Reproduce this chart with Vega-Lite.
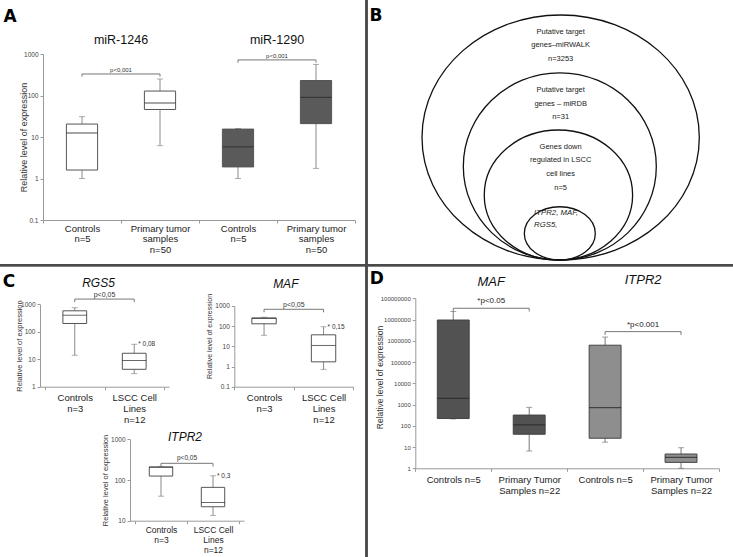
{
  "$schema": "https://vega.github.io/schema/vega-lite/v6.json",
  "width": 733,
  "height": 557,
  "padding": 0,
  "autosize": {"type": "none"},
  "background": "white",
  "config": {
    "view": {"stroke": null},
    "font": "Liberation Sans",
    "axis": {"grid": false, "domainColor": "#9a9a9a", "tickColor": "#9a9a9a", "labelColor": "#444", "titleColor": "#333", "titleFontWeight": "normal", "tickSize": 3, "labelOverlap": false, "titleBaseline": "middle"}
  },
  "datasets": {
    "boxes": [
      {"panel": "A", "cat": "a1", "grp": "miR-1246", "min": 1.0, "q1": 1.6, "med": 12.5, "q3": 20.5, "max": 31},
      {"panel": "A", "cat": "a2", "grp": "miR-1246", "min": 6.2, "q1": 46, "med": 66, "q3": 128, "max": 250},
      {"panel": "A", "cat": "a3", "grp": "miR-1290", "min": 1.0, "q1": 1.9, "med": 5.8, "q3": 15.5, "max": 16},
      {"panel": "A", "cat": "a4", "grp": "miR-1290", "min": 1.75, "q1": 21, "med": 90, "q3": 230, "max": 560},
      {"panel": "RGS5", "cat": "k1", "grp": "RGS5", "min": 14, "q1": 200, "med": 400, "q3": 580, "max": 750},
      {"panel": "RGS5", "cat": "k2", "grp": "RGS5", "min": 3.0, "q1": 4.3, "med": 9, "q3": 16.5, "max": 35},
      {"panel": "MAFc", "cat": "k1", "grp": "MAF", "min": 35, "q1": 130, "med": 240, "q3": 255, "max": 275},
      {"panel": "MAFc", "cat": "k2", "grp": "MAF", "min": 0.72, "q1": 1.7, "med": 11, "q3": 37, "max": 93},
      {"panel": "ITPR2c", "cat": "k1", "grp": "ITPR2", "min": 40, "q1": 125, "med": 205, "q3": 210, "max": 215},
      {"panel": "ITPR2c", "cat": "k2", "grp": "ITPR2", "min": 13.5, "q1": 22, "med": 28, "q3": 66, "max": 127},
      {"panel": "D", "cat": "d1", "grp": "MAF", "min": 210, "q1": 220, "med": 1950, "q3": 9500000, "max": 24000000},
      {"panel": "D", "cat": "d2", "grp": "MAF", "min": 6.5, "q1": 40, "med": 110, "q3": 320, "max": 740},
      {"panel": "D", "cat": "d3", "grp": "ITPR2", "min": 17, "q1": 26, "med": 710, "q3": 620000, "max": 1500000},
      {"panel": "D", "cat": "d4", "grp": "ITPR2", "min": 1, "q1": 1.9, "med": 3.3, "q3": 4.7, "max": 9.3}
    ],
    "brackets": [
      {"panel": "A", "from": "a1", "to": "a2", "y": 330, "end": 285, "label": "p<0,001"},
      {"panel": "A", "from": "a3", "to": "a4", "y": 720, "end": 620, "label": "p<0,001"},
      {"panel": "RGS5", "from": "k1", "to": "k2", "y": 1550, "end": 1200, "label": "p<0,05"},
      {"panel": "MAFc", "from": "k1", "to": "k2", "y": 680, "end": 480, "label": "p<0,05"},
      {"panel": "ITPR2c", "from": "k1", "to": "k2", "y": 257, "end": 215, "label": "p<0,05"},
      {"panel": "D", "from": "d1", "to": "d2", "y": 34000000, "end": 24000000, "label": "*p<0.05"},
      {"panel": "D", "from": "d3", "to": "d4", "y": 2700000, "end": 1900000, "label": "*p<0.001"}
    ],
    "titles": [
      {"panel": "A", "at": "a1", "y": 2170, "label": "miR-1246"},
      {"panel": "A", "at": "a3", "y": 2170, "label": "miR-1290"},
      {"panel": "RGS5", "at": "k1", "y": 5750, "label": "RGS5"},
      {"panel": "MAFc", "at": "k1", "y": 11750, "label": "MAF"},
      {"panel": "ITPR2c", "at": "k1", "y": 1120, "label": "ITPR2"},
      {"panel": "D", "at": "d1", "y": 560000000, "label": "MAF"},
      {"panel": "D", "at": "d3", "y": 700000000, "label": "ITPR2"}
    ],
    "notes": [
      {"panel": "RGS5", "at": "k2", "y": 35, "label": "* 0,08"},
      {"panel": "MAFc", "at": "k2", "y": 93, "label": "* 0,15"},
      {"panel": "ITPR2c", "at": "k2", "y": 127, "label": "* 0,3"}
    ],
    "sets": [
      {"set": "miRWALK", "cx": 0, "cy": 44.18, "w": 100},
      {"set": "miRDB", "cx": -0.3, "cy": 33.75, "w": 69.6},
      {"set": "LSCC", "cx": -0.8, "cy": 23.45, "w": 53.5},
      {"set": "final", "cx": -0.3, "cy": 9.6, "w": 25.6}
    ],
    "setlabels": [
      {"kind": "plain", "tx": 0, "ty": 82.3, "label": "Putative target\ngenes–miRWALK\nn=3253"},
      {"kind": "plain", "tx": 0, "ty": 61.3, "label": "Putative target\ngenes – miRDB\nn=31"},
      {"kind": "plain", "tx": 0, "ty": 40.9, "label": "Genes down\nregulated in LSCC\ncell lines\nn=5"},
      {"kind": "genes", "tx": -9.6, "ty": 16.8, "label": "ITPR2, MAF,\nRGS5,"}
    ],
    "letters": [
      {"letter": "A", "px": 1.36, "py": 3.14},
      {"letter": "B", "px": 51.3, "py": 2.87},
      {"letter": "C", "px": 1.23, "py": 50.6},
      {"letter": "D", "px": 51.4, "py": 50.1}
    ]
  },
  "layer": [
    {
      "data": {"name": "letters"},
      "layer": [
        {"mark": {"type": "rule", "color": "#4a4a4a", "strokeWidth": 2}, "encoding": {"x": {"datum": 50, "type": "quantitative", "scale": {"domain": [0, 100], "range": [0, 733]}, "axis": null}}},
        {"mark": {"type": "rule", "color": "#4a4a4a", "strokeWidth": 2}, "encoding": {"y": {"datum": 47.6, "type": "quantitative", "scale": {"domain": [0, 100], "range": [0, 557]}, "axis": null}}},
        {"mark": {"type": "text", "font": "DejaVu Sans", "fontWeight": "bold", "fontSize": 17, "color": "#000", "baseline": "middle", "align": "center"},
         "encoding": {"x": {"field": "px", "type": "quantitative"}, "y": {"field": "py", "type": "quantitative"}, "text": {"field": "letter"}}}
      ]
    },
    {
      "layer": [
        {
          "data": {"name": "boxes"},
          "transform": [{"filter": "datum.panel === 'A'"}],
          "layer": [
            {"mark": {"type": "rule", "color": "#8a8a8a", "strokeWidth": 1},
             "encoding": {
               "x": {"field": "cat", "type": "nominal", "scale": {"type": "band", "domain": ["a1", "a2", "a3", "a4"], "range": [43, 355], "paddingInner": 0, "paddingOuter": 0},
                     "axis": {"orient": "bottom", "offset": -337, "title": null, "labelAngle": 0, "tickBand": "extent", "labelFontSize": 9.5, "labelLineHeight": 10.5, "labelPadding": 0, "labelColor": "#222",
                              "labelExpr": "datum.value == 'a1' || datum.value == 'a3' ? ['Controls', 'n=5'] : (datum.value == 'a2' || datum.value == 'a4' ? ['Primary tumor', 'samples', 'n=50'] : '')"}},
               "y": {"field": "min", "type": "quantitative", "scale": {"type": "log", "domain": [0.1, 1000], "range": [220, 54], "nice": false},
                     "axis": {"orient": "left", "offset": -43, "values": [0.1, 1, 10, 100, 1000], "format": "~f", "labelFontSize": 6.5, "labelPadding": 2, "title": "Relative level of expression", "titleFontSize": 9, "titleX": -20}},
               "y2": {"field": "max"}}},
            {"mark": {"type": "tick", "color": "#8a8a8a", "size": 6, "thickness": 1}, "encoding": {"x": {"field": "cat", "type": "nominal"}, "y": {"field": "max", "type": "quantitative"}}},
            {"mark": {"type": "tick", "color": "#8a8a8a", "size": 6, "thickness": 1}, "encoding": {"x": {"field": "cat", "type": "nominal"}, "y": {"field": "min", "type": "quantitative"}}},
            {"mark": {"type": "bar", "stroke": "#555", "strokeWidth": 1, "width": {"band": 0.4}},
             "encoding": {"x": {"field": "cat", "type": "nominal"}, "y": {"field": "q1", "type": "quantitative"}, "y2": {"field": "q3"},
                          "fill": {"field": "grp", "type": "nominal", "scale": {"domain": ["miR-1246", "miR-1290"], "range": ["#ffffff", "#5a5a5a"]}, "legend": null}}},
            {"mark": {"type": "tick", "color": "#2a2a2a", "size": 31, "thickness": 1.2}, "encoding": {"x": {"field": "cat", "type": "nominal"}, "y": {"field": "med", "type": "quantitative"}}}
          ]
        },
        {
          "data": {"name": "brackets"},
          "transform": [{"filter": "datum.panel === 'A'"}],
          "layer": [
            {"mark": {"type": "rule", "color": "#777"}, "encoding": {"x": {"field": "from", "type": "nominal", "bandPosition": 0.5}, "x2": {"field": "to", "bandPosition": 0.5}, "y": {"field": "y", "type": "quantitative"}}},
            {"mark": {"type": "rule", "color": "#777"}, "encoding": {"x": {"field": "from", "type": "nominal"}, "y": {"field": "y", "type": "quantitative"}, "y2": {"field": "end"}}},
            {"mark": {"type": "rule", "color": "#777"}, "encoding": {"x": {"field": "to", "type": "nominal"}, "y": {"field": "y", "type": "quantitative"}, "y2": {"field": "end"}}},
            {"mark": {"type": "text", "fontSize": 6, "color": "#333", "baseline": "bottom", "dy": -1},
             "encoding": {"x": {"field": "from", "type": "nominal", "bandPosition": 1}, "y": {"field": "y", "type": "quantitative"}, "text": {"field": "label"}}}
          ]
        },
        {
          "data": {"name": "titles"},
          "transform": [{"filter": "datum.panel === 'A'"}],
          "mark": {"type": "text", "fontSize": 12.5, "color": "#111", "baseline": "middle"},
          "encoding": {"x": {"field": "at", "type": "nominal", "bandPosition": 1}, "y": {"field": "y", "type": "quantitative"}, "text": {"field": "label"}}
        }
      ]
    },
    {
      "layer": [
        {
          "data": {"name": "sets"},
          "mark": {"type": "point", "filled": false, "stroke": "#111", "strokeWidth": 1.3, "opacity": 1},
          "encoding": {
            "x": {"field": "cx", "type": "quantitative", "scale": {"domain": [-50, 50], "range": [422, 699.3], "nice": false, "zero": false}, "axis": null},
            "y": {"field": "cy", "type": "quantitative", "scale": {"domain": [0, 88.35], "range": [260, 15], "nice": false, "zero": false}, "axis": null},
            "size": {"field": "w", "type": "quantitative", "scale": {"type": "pow", "exponent": 2, "domain": [0, 100], "range": [0, 76895]}, "legend": null},
            "shape": {"field": "set", "type": "nominal", "legend": null,
                      "scale": {"domain": ["miRWALK", "miRDB", "LSCC", "final"],
                                "range": ["M-1,0A1,0.8835,0,1,0,1,0A1,0.8835,0,1,0,-1,0Z", "M-1,0A1,0.97,0,1,0,1,0A1,0.97,0,1,0,-1,0Z", "M-1,0A1,0.876,0,1,0,1,0A1,0.876,0,1,0,-1,0Z", "M-1,0A1,0.75,0,1,0,1,0A1,0.75,0,1,0,-1,0Z"]}}
          }
        },
        {
          "data": {"name": "setlabels"},
          "transform": [{"filter": "datum.kind === 'plain'"}],
          "mark": {"type": "text", "lineBreak": "\n", "fontSize": 7.5, "lineHeight": 13.7, "baseline": "middle", "align": "center", "color": "#222"},
          "encoding": {"x": {"field": "tx", "type": "quantitative"}, "y": {"field": "ty", "type": "quantitative"}, "text": {"field": "label"}}
        },
        {
          "data": {"name": "setlabels"},
          "transform": [{"filter": "datum.kind === 'genes'"}],
          "mark": {"type": "text", "lineBreak": "\n", "fontSize": 7.8, "fontStyle": "italic", "lineHeight": 11.7, "baseline": "middle", "align": "left", "color": "#222"},
          "encoding": {"x": {"field": "tx", "type": "quantitative"}, "y": {"field": "ty", "type": "quantitative"}, "text": {"field": "label"}}
        }
      ]
    },
    {
      "layer": [
        {
          "data": {"name": "boxes"},
          "transform": [{"filter": "datum.panel === 'RGS5'"}],
          "layer": [
            {"mark": {"type": "rule", "color": "#8a8a8a", "strokeWidth": 1},
             "encoding": {
               "x": {"field": "cat", "type": "nominal", "scale": {"type": "band", "domain": ["k1", "k2"], "range": [40, 169], "paddingInner": 0, "paddingOuter": 0.085},
                     "axis": {"orient": "bottom", "offset": -170.3, "title": null, "labelAngle": 0, "tickBand": "extent", "labelFontSize": 9.5, "labelLineHeight": 11, "labelPadding": 3, "labelColor": "#222",
                              "labelExpr": "datum.value == 'k1' ? ['Controls', 'n=3'] : (datum.value == 'k2' ? ['LSCC Cell', 'Lines', 'n=12'] : '')"}},
               "y": {"field": "min", "type": "quantitative", "scale": {"type": "log", "domain": [1, 1000], "range": [386.7, 304.3], "nice": false},
                     "axis": {"orient": "left", "offset": -40, "values": [1, 10, 100, 1000], "format": "~f", "labelFontSize": 6.5, "labelPadding": 2, "title": "Relative level of expression", "titleFontSize": 7.5, "titleX": -20.5}},
               "y2": {"field": "max"}}},
            {"mark": {"type": "tick", "color": "#8a8a8a", "size": 6, "thickness": 1}, "encoding": {"x": {"field": "cat", "type": "nominal"}, "y": {"field": "max", "type": "quantitative"}}},
            {"mark": {"type": "tick", "color": "#8a8a8a", "size": 6, "thickness": 1}, "encoding": {"x": {"field": "cat", "type": "nominal"}, "y": {"field": "min", "type": "quantitative"}}},
            {"mark": {"type": "bar", "fill": "#ffffff", "stroke": "#555", "strokeWidth": 1, "width": {"band": 0.4}},
             "encoding": {"x": {"field": "cat", "type": "nominal"}, "y": {"field": "q1", "type": "quantitative"}, "y2": {"field": "q3"}}},
            {"mark": {"type": "tick", "color": "#2a2a2a", "size": 24, "thickness": 1}, "encoding": {"x": {"field": "cat", "type": "nominal"}, "y": {"field": "med", "type": "quantitative"}}}
          ]
        },
        {
          "data": {"name": "brackets"},
          "transform": [{"filter": "datum.panel === 'RGS5'"}],
          "layer": [
            {"mark": {"type": "rule", "color": "#777"}, "encoding": {"x": {"field": "from", "type": "nominal", "bandPosition": 0.5}, "x2": {"field": "to", "bandPosition": 0.5}, "y": {"field": "y", "type": "quantitative"}}},
            {"mark": {"type": "rule", "color": "#777"}, "encoding": {"x": {"field": "from", "type": "nominal"}, "y": {"field": "y", "type": "quantitative"}, "y2": {"field": "end"}}},
            {"mark": {"type": "rule", "color": "#777"}, "encoding": {"x": {"field": "to", "type": "nominal"}, "y": {"field": "y", "type": "quantitative"}, "y2": {"field": "end"}}},
            {"mark": {"type": "text", "fontSize": 7, "color": "#333", "baseline": "bottom", "dy": -1},
             "encoding": {"x": {"field": "from", "type": "nominal", "bandPosition": 1}, "y": {"field": "y", "type": "quantitative"}, "text": {"field": "label"}}}
          ]
        },
        {
          "data": {"name": "titles"},
          "transform": [{"filter": "datum.panel === 'RGS5'"}],
          "mark": {"type": "text", "fontSize": 12, "fontStyle": "italic", "color": "#111", "baseline": "middle", "dx": -6},
          "encoding": {"x": {"field": "at", "type": "nominal", "bandPosition": 1}, "y": {"field": "y", "type": "quantitative"}, "text": {"field": "label"}}
        },
        {
          "data": {"name": "notes"},
          "transform": [{"filter": "datum.panel === 'RGS5'"}],
          "mark": {"type": "text", "fontSize": 6.5, "color": "#333", "baseline": "middle", "align": "left", "dx": 4},
          "encoding": {"x": {"field": "at", "type": "nominal"}, "y": {"field": "y", "type": "quantitative"}, "text": {"field": "label"}}
        }
      ]
    },
    {
      "layer": [
        {
          "data": {"name": "boxes"},
          "transform": [{"filter": "datum.panel === 'MAFc'"}],
          "layer": [
            {"mark": {"type": "rule", "color": "#8a8a8a", "strokeWidth": 1},
             "encoding": {
               "x": {"field": "cat", "type": "nominal", "scale": {"type": "band", "domain": ["k1", "k2"], "range": [234.3, 353.3], "paddingInner": 0, "paddingOuter": 0},
                     "axis": {"orient": "bottom", "offset": -170.3, "title": null, "labelAngle": 0, "tickBand": "extent", "labelFontSize": 9.5, "labelLineHeight": 11, "labelPadding": 3, "labelColor": "#222",
                              "labelExpr": "datum.value == 'k1' ? ['Controls', 'n=3'] : (datum.value == 'k2' ? ['LSCC Cell', 'Lines', 'n=12'] : '')"}},
               "y": {"field": "min", "type": "quantitative", "scale": {"type": "log", "domain": [0.1, 1000], "range": [386.7, 305.9], "nice": false},
                     "axis": {"orient": "left", "offset": -234.3, "values": [0.1, 1, 10, 100, 1000], "format": "~f", "labelFontSize": 6.5, "labelPadding": 2, "title": "Relative level of expression", "titleFontSize": 7, "titleX": -25, "titleY": 336}},
               "y2": {"field": "max"}}},
            {"mark": {"type": "tick", "color": "#8a8a8a", "size": 6, "thickness": 1}, "encoding": {"x": {"field": "cat", "type": "nominal"}, "y": {"field": "max", "type": "quantitative"}}},
            {"mark": {"type": "tick", "color": "#8a8a8a", "size": 6, "thickness": 1}, "encoding": {"x": {"field": "cat", "type": "nominal"}, "y": {"field": "min", "type": "quantitative"}}},
            {"mark": {"type": "bar", "fill": "#ffffff", "stroke": "#555", "strokeWidth": 1, "width": {"band": 0.41}},
             "encoding": {"x": {"field": "cat", "type": "nominal"}, "y": {"field": "q1", "type": "quantitative"}, "y2": {"field": "q3"}}},
            {"mark": {"type": "tick", "color": "#2a2a2a", "size": 24, "thickness": 1}, "encoding": {"x": {"field": "cat", "type": "nominal"}, "y": {"field": "med", "type": "quantitative"}}}
          ]
        },
        {
          "data": {"name": "brackets"},
          "transform": [{"filter": "datum.panel === 'MAFc'"}],
          "layer": [
            {"mark": {"type": "rule", "color": "#777"}, "encoding": {"x": {"field": "from", "type": "nominal", "bandPosition": 0.5}, "x2": {"field": "to", "bandPosition": 0.5}, "y": {"field": "y", "type": "quantitative"}}},
            {"mark": {"type": "rule", "color": "#777"}, "encoding": {"x": {"field": "from", "type": "nominal"}, "y": {"field": "y", "type": "quantitative"}, "y2": {"field": "end"}}},
            {"mark": {"type": "rule", "color": "#777"}, "encoding": {"x": {"field": "to", "type": "nominal"}, "y": {"field": "y", "type": "quantitative"}, "y2": {"field": "end"}}},
            {"mark": {"type": "text", "fontSize": 7, "color": "#333", "baseline": "bottom", "dy": -1},
             "encoding": {"x": {"field": "from", "type": "nominal", "bandPosition": 1}, "y": {"field": "y", "type": "quantitative"}, "text": {"field": "label"}}}
          ]
        },
        {
          "data": {"name": "titles"},
          "transform": [{"filter": "datum.panel === 'MAFc'"}],
          "mark": {"type": "text", "fontSize": 12, "fontStyle": "italic", "color": "#111", "baseline": "middle", "dx": -8},
          "encoding": {"x": {"field": "at", "type": "nominal", "bandPosition": 1}, "y": {"field": "y", "type": "quantitative"}, "text": {"field": "label"}}
        },
        {
          "data": {"name": "notes"},
          "transform": [{"filter": "datum.panel === 'MAFc'"}],
          "mark": {"type": "text", "fontSize": 6.5, "color": "#333", "baseline": "middle", "align": "left", "dx": 4},
          "encoding": {"x": {"field": "at", "type": "nominal"}, "y": {"field": "y", "type": "quantitative"}, "text": {"field": "label"}}
        }
      ]
    },
    {
      "layer": [
        {
          "data": {"name": "boxes"},
          "transform": [{"filter": "datum.panel === 'ITPR2c'"}],
          "layer": [
            {"mark": {"type": "rule", "color": "#8a8a8a", "strokeWidth": 1},
             "encoding": {
               "x": {"field": "cat", "type": "nominal", "scale": {"type": "band", "domain": ["k1", "k2"], "range": [130, 244], "paddingInner": 0, "paddingOuter": 0.096},
                     "axis": {"orient": "bottom", "offset": -36.3, "title": null, "labelAngle": 0, "tickBand": "extent", "labelFontSize": 8.5, "labelLineHeight": 10, "labelPadding": 2, "labelColor": "#222",
                              "labelExpr": "datum.value == 'k1' ? ['Controls', 'n=3'] : (datum.value == 'k2' ? ['LSCC Cell', 'Lines', 'n=12'] : '')"}},
               "y": {"field": "min", "type": "quantitative", "scale": {"type": "log", "domain": [10, 1000], "range": [520.7, 439.3], "nice": false},
                     "axis": {"orient": "left", "offset": -130, "values": [10, 100, 1000], "format": "~f", "labelFontSize": 6.5, "labelPadding": 2, "title": "Relative level of expression", "titleFontSize": 7.5, "titleX": -25}},
               "y2": {"field": "max"}}},
            {"mark": {"type": "tick", "color": "#8a8a8a", "size": 6, "thickness": 1}, "encoding": {"x": {"field": "cat", "type": "nominal"}, "y": {"field": "max", "type": "quantitative"}}},
            {"mark": {"type": "tick", "color": "#8a8a8a", "size": 6, "thickness": 1}, "encoding": {"x": {"field": "cat", "type": "nominal"}, "y": {"field": "min", "type": "quantitative"}}},
            {"mark": {"type": "bar", "fill": "#ffffff", "stroke": "#555", "strokeWidth": 1, "width": {"band": 0.45}},
             "encoding": {"x": {"field": "cat", "type": "nominal"}, "y": {"field": "q1", "type": "quantitative"}, "y2": {"field": "q3"}}},
            {"mark": {"type": "tick", "color": "#2a2a2a", "size": 24, "thickness": 1}, "encoding": {"x": {"field": "cat", "type": "nominal"}, "y": {"field": "med", "type": "quantitative"}}}
          ]
        },
        {
          "data": {"name": "brackets"},
          "transform": [{"filter": "datum.panel === 'ITPR2c'"}],
          "layer": [
            {"mark": {"type": "rule", "color": "#777"}, "encoding": {"x": {"field": "from", "type": "nominal", "bandPosition": 0.5}, "x2": {"field": "to", "bandPosition": 0.5}, "y": {"field": "y", "type": "quantitative"}}},
            {"mark": {"type": "rule", "color": "#777"}, "encoding": {"x": {"field": "from", "type": "nominal"}, "y": {"field": "y", "type": "quantitative"}, "y2": {"field": "end"}}},
            {"mark": {"type": "rule", "color": "#777"}, "encoding": {"x": {"field": "to", "type": "nominal"}, "y": {"field": "y", "type": "quantitative"}, "y2": {"field": "end"}}},
            {"mark": {"type": "text", "fontSize": 6.5, "color": "#333", "baseline": "bottom", "dy": -2},
             "encoding": {"x": {"field": "from", "type": "nominal", "bandPosition": 1}, "y": {"field": "y", "type": "quantitative"}, "text": {"field": "label"}}}
          ]
        },
        {
          "data": {"name": "titles"},
          "transform": [{"filter": "datum.panel === 'ITPR2c'"}],
          "mark": {"type": "text", "fontSize": 12, "fontStyle": "italic", "color": "#111", "baseline": "middle", "dx": -2},
          "encoding": {"x": {"field": "at", "type": "nominal", "bandPosition": 1}, "y": {"field": "y", "type": "quantitative"}, "text": {"field": "label"}}
        },
        {
          "data": {"name": "notes"},
          "transform": [{"filter": "datum.panel === 'ITPR2c'"}],
          "mark": {"type": "text", "fontSize": 6.5, "color": "#333", "baseline": "middle", "align": "left", "dx": 4},
          "encoding": {"x": {"field": "at", "type": "nominal"}, "y": {"field": "y", "type": "quantitative"}, "text": {"field": "label"}}
        }
      ]
    },
    {
      "layer": [
        {
          "data": {"name": "boxes"},
          "transform": [{"filter": "datum.panel === 'D'"}],
          "layer": [
            {"mark": {"type": "rule", "color": "#777", "strokeWidth": 1},
             "encoding": {
               "x": {"field": "cat", "type": "nominal", "scale": {"type": "band", "domain": ["d1", "d2", "d3", "d4"], "range": [415.3, 719], "paddingInner": 0, "paddingOuter": 0},
                     "axis": {"orient": "bottom", "offset": -88.7, "title": null, "labelAngle": 0, "tickBand": "extent", "labelFontSize": 9.5, "labelLineHeight": 11.7, "labelPadding": 3, "labelColor": "#222",
                              "labelExpr": "datum.value == 'd1' || datum.value == 'd3' ? 'Controls n=5' : (datum.value == 'd2' || datum.value == 'd4' ? ['Primary Tumor', 'Samples n=22'] : '')"}},
               "y": {"field": "min", "type": "quantitative", "scale": {"type": "log", "domain": [1, 100000000], "range": [468.3, 298.3], "nice": false},
                     "axis": {"orient": "left", "offset": -415.3, "values": [1, 10, 100, 1000, 10000, 100000, 1000000, 10000000, 100000000], "format": "d", "labelFontSize": 6, "labelPadding": 2, "title": "Relative level of expression", "titleFontSize": 8.5, "titleX": -36, "titleY": 377}},
               "y2": {"field": "max"}}},
            {"mark": {"type": "tick", "color": "#777", "size": 6, "thickness": 1}, "encoding": {"x": {"field": "cat", "type": "nominal"}, "y": {"field": "max", "type": "quantitative"}}},
            {"mark": {"type": "tick", "color": "#777", "size": 6, "thickness": 1}, "encoding": {"x": {"field": "cat", "type": "nominal"}, "y": {"field": "min", "type": "quantitative"}}},
            {"mark": {"type": "bar", "stroke": "#444", "strokeWidth": 1, "width": {"band": 0.42}},
             "encoding": {"x": {"field": "cat", "type": "nominal"}, "y": {"field": "q1", "type": "quantitative"}, "y2": {"field": "q3"},
                          "fill": {"field": "grp", "type": "nominal", "scale": {"domain": ["MAF", "ITPR2"], "range": ["#525252", "#8e8e8e"]}, "legend": null}}},
            {"mark": {"type": "tick", "color": "#222", "size": 32, "thickness": 1.2}, "encoding": {"x": {"field": "cat", "type": "nominal"}, "y": {"field": "med", "type": "quantitative"}}}
          ]
        },
        {
          "data": {"name": "brackets"},
          "transform": [{"filter": "datum.panel === 'D'"}],
          "layer": [
            {"mark": {"type": "rule", "color": "#777"}, "encoding": {"x": {"field": "from", "type": "nominal", "bandPosition": 0.5}, "x2": {"field": "to", "bandPosition": 0.5}, "y": {"field": "y", "type": "quantitative"}}},
            {"mark": {"type": "rule", "color": "#777"}, "encoding": {"x": {"field": "from", "type": "nominal"}, "y": {"field": "y", "type": "quantitative"}, "y2": {"field": "end"}}},
            {"mark": {"type": "rule", "color": "#777"}, "encoding": {"x": {"field": "to", "type": "nominal"}, "y": {"field": "y", "type": "quantitative"}, "y2": {"field": "end"}}},
            {"mark": {"type": "text", "fontSize": 8, "color": "#222", "baseline": "bottom", "dy": -3},
             "encoding": {"x": {"field": "from", "type": "nominal", "bandPosition": 1}, "y": {"field": "y", "type": "quantitative"}, "text": {"field": "label"}}}
          ]
        },
        {
          "data": {"name": "titles"},
          "transform": [{"filter": "datum.panel === 'D'"}],
          "mark": {"type": "text", "fontSize": 13, "fontStyle": "italic", "color": "#111", "baseline": "middle"},
          "encoding": {"x": {"field": "at", "type": "nominal", "bandPosition": 1}, "y": {"field": "y", "type": "quantitative"}, "text": {"field": "label"}}
        }
      ]
    }
  ],
  "resolve": {"scale": {"x": "independent", "y": "independent", "fill": "independent", "size": "independent", "shape": "independent"}, "axis": {"x": "independent", "y": "independent"}}
}
